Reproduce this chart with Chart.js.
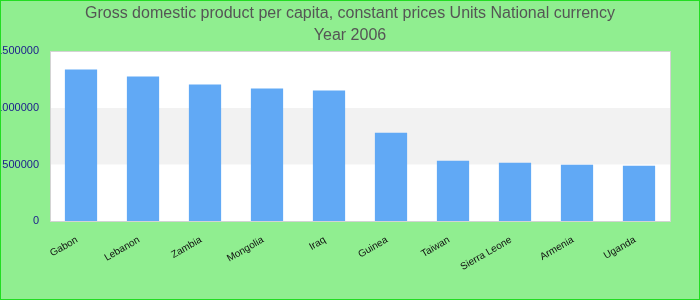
<!DOCTYPE html>
<html>
<head>
<meta charset="utf-8">
<script src="https://cdn.jsdelivr.net/npm/chart.js@4/dist/chart.umd.min.js"></script>
<style>
  html, body { margin: 0; padding: 0; background: #90EE90; }
  #wrap { position: absolute; left: 0; top: 0; width: 700px; height: 300px; box-sizing: border-box; border: 1px solid #22dd22; background: #90EE90; overflow: hidden; }
  canvas { position: absolute; left: 0; top: 0; }
</style>
</head>
<body>
<div id="wrap"><canvas id="c" width="698" height="298"></canvas></div>
<script>
const titleLines = ["Gross domestic product per capita, constant prices Units National currency", "Year 2006"];
const categories = ["Gabon", "Lebanon", "Zambia", "Mongolia", "Iraq", "Guinea", "Taiwan", "Sierra Leone", "Armenia", "Uganda"];
const gdpValues = [1341000, 1279000, 1208000, 1172000, 1155000, 781000, 533000, 515000, 497000, 488000];
const yTicks = [0, 500000, 1000000, 1500000];

const bandPlugin = {
  id: 'bands',
  beforeDraw(chart) {
    const { ctx, chartArea: a, scales: { y } } = chart;
    ctx.save();
    ctx.fillStyle = '#ffffff';
    ctx.fillRect(a.left, a.top, a.right - a.left, a.bottom - a.top);
    for (let i = 0; i < yTicks.length - 1; i++) {
      if (i % 2 === 1) {
        const y0 = y.getPixelForValue(yTicks[i]);
        const y1 = y.getPixelForValue(yTicks[i + 1]);
        ctx.fillStyle = '#f2f2f2';
        ctx.fillRect(a.left, y1, a.right - a.left, y0 - y1);
      }
    }
    ctx.strokeStyle = '#d3d3d3';
    ctx.lineWidth = 1;
    ctx.strokeRect(Math.round(a.left) + 0.5, Math.round(a.top) + 0.5, Math.round(a.right - a.left), Math.round(a.bottom - a.top));
    ctx.restore();
  }
};

new Chart(document.getElementById('c'), {
  type: 'bar',
  data: {
    labels: categories,
    datasets: [{
      data: gdpValues,
      backgroundColor: '#61a9f5',
      borderWidth: 0,
      barPercentage: 0.52,
      categoryPercentage: 1.0
    }]
  },
  options: {
    responsive: false,
    animation: false,
    layout: { padding: 0 },
    plugins: {
      legend: { display: false },
      tooltip: { enabled: false },
      title: {
        display: true,
        text: titleLines,
        color: '#555555',
        font: { family: 'Liberation Sans, Arial, sans-serif', size: 16, weight: 'normal', lineHeight: 1.42 },
        padding: { top: 1, bottom: 4 }
      }
    },
    scales: {
      x: {
        grid: { display: false, drawTicks: false },
        border: { display: false },
        ticks: {
          color: '#111111',
          font: { family: 'Liberation Sans, Arial, sans-serif', size: 10 },
          minRotation: 30, maxRotation: 30,
          padding: 13,
          labelOffset: -4,
          autoSkip: false
        },
        afterFit(scale) { scale.height = 78; }
      },
      y: {
        min: 0, max: 1500000,
        afterBuildTicks(scale) { scale.ticks = yTicks.map(v => ({ value: v })); },
        grid: { display: false, drawTicks: false },
        border: { display: false },
        ticks: {
          color: '#1a1a8c',
          font: { family: 'Liberation Sans, Arial, sans-serif', size: 11 },
          padding: 11,
          callback: (v) => String(v)
        },
        afterFit(scale) { scale.width = 49; }
      },
      yRight: {
        type: 'linear',
        position: 'right',
        display: true,
        grid: { display: false, drawTicks: false },
        border: { display: false },
        ticks: { display: false },
        afterFit(scale) { scale.width = 29; }
      }
    }
  },
  plugins: [bandPlugin]
});
</script>
</body>
</html>
